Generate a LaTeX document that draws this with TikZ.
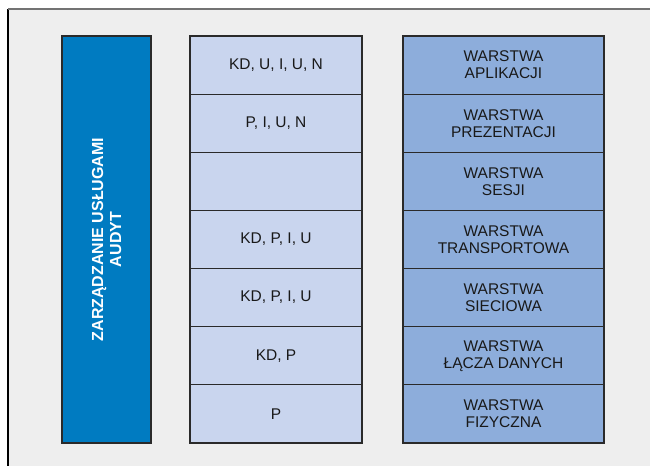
\documentclass[tikz,border=0pt]{standalone}
\usepackage{fontspec}
\setmainfont{Liberation Sans}
\definecolor{bgray}{HTML}{EEEEEE}
\definecolor{barblue}{HTML}{007BC1}
\definecolor{midblue}{HTML}{C9D5EE}
\definecolor{layblue}{HTML}{8DADDB}
\definecolor{edge}{HTML}{2A2A2A}
\tikzset{
  cell/.style={draw=edge, line width=1.2pt, rectangle, inner sep=0pt, align=center,
    font=\fontsize{15.5}{17}\selectfont, text=black!90},
  midcell/.style={cell, fill=midblue, minimum width=172pt, minimum height=58.14pt},
  laycell/.style={cell, fill=layblue, minimum width=201pt, minimum height=58.14pt},
}
\begin{document}
\begin{tikzpicture}[x=1pt,y=-1pt]
\useasboundingbox (0,0) rectangle (650,466);
\fill[white] (0,0) rectangle (650,466);
\fill[bgray] (8,9) rectangle (650,466);
\draw[black, line width=1.5pt] (8,9) -- (8,466);
\draw[black!55, line width=2pt] (8,9) -- (650,9);
% left bar
\node[draw=edge, line width=1.2pt, fill=barblue, minimum width=89pt, minimum height=407pt, inner sep=0pt] (bar) at (106.5,239.5) {};
\node[rotate=90, text=white, align=center, font=\bfseries\fontsize{16}{18}\selectfont] (bartext) at (bar.center) {ZARZĄDZANIE USŁUGAMI\\AUDYT};
% middle column
\foreach \i/\t in {1/{KD, U, I, U, N},2/{P, I, U, N},3/{},4/{KD, P, I, U},5/{KD, P, I, U},6/{KD, P},7/{P}} {
  \node[midcell] (m\i) at (276, 36+58.14*\i-29.07) {\t};
}
% right column
\foreach \i/\t in {1/{WARSTWA\\APLIKACJI},2/{WARSTWA\\PREZENTACJI},3/{WARSTWA\\SESJI},4/{WARSTWA\\TRANSPORTOWA},5/{WARSTWA\\SIECIOWA},6/{WARSTWA\\ŁĄCZA DANYCH},7/{WARSTWA\\FIZYCZNA}} {
  \node[laycell] (l\i) at (503.5, 36+58.14*\i-29.07) {\t};
}
\end{tikzpicture}
\end{document}
